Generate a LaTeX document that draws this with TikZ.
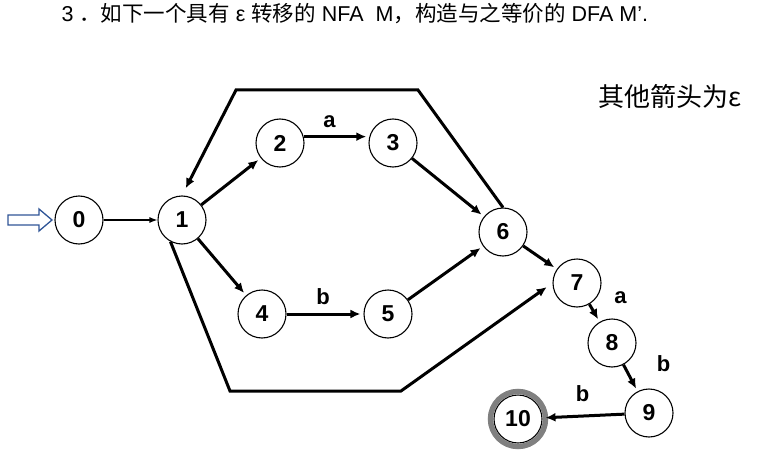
\documentclass[tikz,border=0pt]{standalone}
\usepackage{fontspec}
\setsansfont{Liberation Sans}
\newfontfamily\cjk{Noto Sans CJK SC}
\usetikzlibrary{arrows.meta,calc}
\definecolor{startblue}{RGB}{47,85,151}
\tikzstyle{state}=[circle,draw,line width=1.1pt,fill=white,minimum size=48pt,inner sep=0pt,font=\sffamily\bfseries\fontsize{23}{23}\selectfont]
\tikzstyle{edge} = [draw,line width=3pt,-{Latex[length=10pt,width=9pt]},shorten >=3pt]
\tikzstyle{thinedge} = [draw,line width=1.3pt,-{Latex[length=8pt,width=6pt]}]
\tikzstyle{weight} = [font=\sffamily\bfseries\fontsize{22}{22}\selectfont]
\tikzstyle{ring} = [draw=black!50,line width=5.5pt]

\begin{document}
\begin{tikzpicture}[x=1pt,y=-1pt]
\useasboundingbox (0,0) rectangle (778,465);

% Label
\node[anchor=west,font=\sffamily\fontsize{21.5}{22}\selectfont] (title) at (58,14) {3 {\cjk ．}{\cjk 如下一个具有} ε {\cjk 转移的} NFA \ M{\cjk ，构造与之等价的} DFA M'.};
\node[font=\cjk\fontsize{26}{26}\selectfont] (note) at (670,96) {其他箭头为ε};

% States
\foreach \pos/\name/\label in {{(79,220)/q0/0}, {(182,220)/q1/1}, {(280,143)/q2/2}, {(393,143)/q3/3}, {(262,314)/q4/4}, {(388,314)/q5/5}, {(503,232)/q6/6}, {(577,283)/q7/7}, {(612,343)/q8/8}, {(649,413)/q9/9}, {(518,419)/q10/10}}
    \node[state] (\name) at \pos {\label};
\draw[ring] (q10) circle (27.5pt);

% Start arrow
\draw[startblue,line width=1.3pt] (8,215) -- (39,215) -- (39,209) -- (52,220) -- (39,231) -- (39,225) -- (8,225) -- cycle;
\path[thinedge] (q0) -- (q1);

% Connect states with edges and draw weights
\foreach \source/\dest/\weight/\lx/\ly in {q1/q2//0/0, q2.15/q3.165/a/-7/15, q3/q6//0/0, q1/q4//0/0, q4/q5/b/-2/17, q5/q6//0/0, q6/q7//0/0, q7/q8/a/26/15, q8/q9/b/33/14, q9/q10/b/-1/22}
    \path[edge] (\source) -- node[weight,xshift=\lx pt,yshift=\ly pt] {\weight} (\dest);

% Loops
\coordinate (tr) at (418,90);
\coordinate (tl) at (236,90);
\draw[edge,shorten >=8pt] (q6.north) -- (tr) -- (tl) -- (q1.north);
\coordinate (bl) at (230,391);
\coordinate (br) at (401,391);
\draw[edge,shorten >=7pt] (q1.242) -- (bl) -- (br) -- (q7.west);

\end{tikzpicture}
\end{document}
